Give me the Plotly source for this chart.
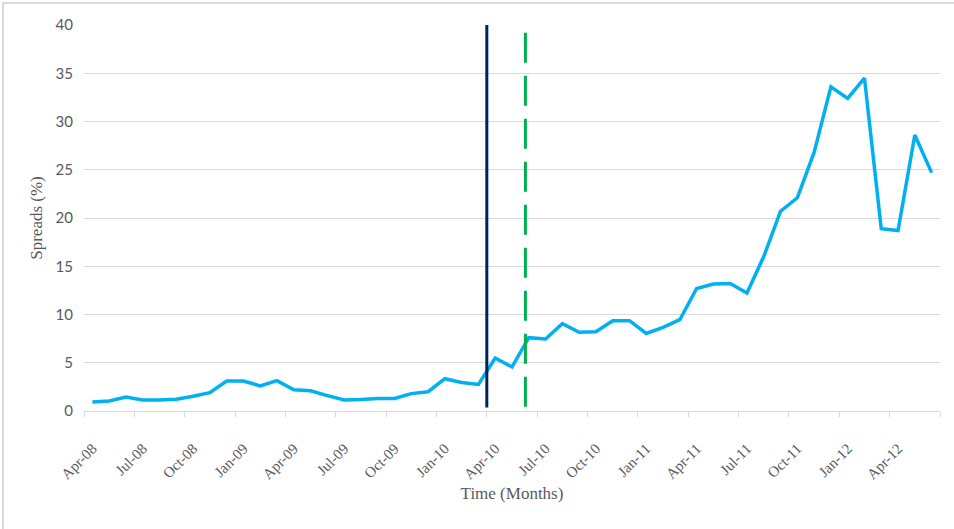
import plotly.graph_objects as go

# Monthly observations, Apr-08 .. Jun-12
months = [
    "Apr-08", "May-08", "Jun-08", "Jul-08", "Aug-08", "Sep-08", "Oct-08", "Nov-08", "Dec-08",
    "Jan-09", "Feb-09", "Mar-09", "Apr-09", "May-09", "Jun-09", "Jul-09", "Aug-09", "Sep-09",
    "Oct-09", "Nov-09", "Dec-09", "Jan-10", "Feb-10", "Mar-10", "Apr-10", "May-10", "Jun-10",
    "Jul-10", "Aug-10", "Sep-10", "Oct-10", "Nov-10", "Dec-10", "Jan-11", "Feb-11", "Mar-11",
    "Apr-11", "May-11", "Jun-11", "Jul-11", "Aug-11", "Sep-11", "Oct-11", "Nov-11", "Dec-11",
    "Jan-12", "Feb-12", "Mar-12", "Apr-12", "May-12", "Jun-12",
]
spreads = [
    0.93, 1.03, 1.45, 1.14, 1.14, 1.21, 1.52, 1.90, 3.10,
    3.10, 2.60, 3.15, 2.20, 2.10, 1.60, 1.14, 1.20, 1.30,
    1.30, 1.80, 2.00, 3.35, 2.95, 2.75, 5.49, 4.56, 7.60,
    7.46, 9.05, 8.15, 8.22, 9.36, 9.36, 8.04, 8.66, 9.46,
    12.70, 13.15, 13.22, 12.22, 16.00, 20.70, 22.10, 26.80, 33.60,
    32.40, 34.50, 18.90, 18.70, 28.60, 24.70,
]

# Event markers, in month-index units
event_solid_x = 23.5
event_dashed_x = 25.8

idx = list(range(len(months)))
label_idx = idx[::3]
label_text = [months[i] for i in label_idx]
boundaries = [i - 0.5 for i in range(0, len(months) + 1, 3)]

grey = "#595959"
serif = "Liberation Serif"

fig = go.Figure()

fig.add_trace(go.Scatter(
    x=idx, y=spreads, mode="lines",
    line=dict(color="#00B0F0", width=3.5),
    showlegend=False, hoverinfo="skip",
))
fig.add_trace(go.Scatter(
    x=[event_solid_x, event_solid_x], y=[40, 0.35], mode="lines",
    line=dict(color="#002060", width=3),
    showlegend=False, hoverinfo="skip",
))
fig.add_trace(go.Scatter(
    x=[event_dashed_x, event_dashed_x], y=[39.2, 0.3], mode="lines",
    line=dict(color="#00B050", width=3, dash="30px,13px"),
    showlegend=False, hoverinfo="skip",
))

# light outer frame around the chart
fig.add_shape(
    type="rect", xref="paper", yref="paper",
    x0=-0.0946, x1=1.2, y0=-0.6, y1=1.057,
    line=dict(color="#d9d9d9", width=2), fillcolor="rgba(0,0,0,0)", layer="below",
)

fig.update_layout(
    width=954, height=529,
    margin=dict(l=84, r=14, t=25, b=118),
    paper_bgcolor="white", plot_bgcolor="white",
    xaxis=dict(
        range=[-0.5, len(months) - 0.5],
        tickmode="array", tickvals=label_idx, ticktext=label_text,
        tickangle=-45, ticks="", ticklen=0, ticklabelstandoff=22,
        tickfont=dict(family=serif, size=15, color=grey),
        showgrid=False, zeroline=False,
        showline=True, linecolor="#d9d9d9", linewidth=1,
        minor=dict(tickmode="array", tickvals=boundaries, ticks="outside",
                   ticklen=5, tickcolor="#d9d9d9", showgrid=False),
        title=dict(text="Time (Months)", font=dict(family=serif, size=17, color=grey), standoff=5),
    ),
    yaxis=dict(
        range=[0, 40], tickmode="array", tickvals=list(range(0, 41, 5)),
        tickfont=dict(family="Lato", size=15, color=grey),
        showgrid=True, gridcolor="#d9d9d9", gridwidth=1,
        zeroline=False, ticks="", ticklabelstandoff=10,
        title=dict(text="Spreads (%)", font=dict(family=serif, size=17, color=grey), standoff=8),
    ),
)

fig.write_html("out.html")
